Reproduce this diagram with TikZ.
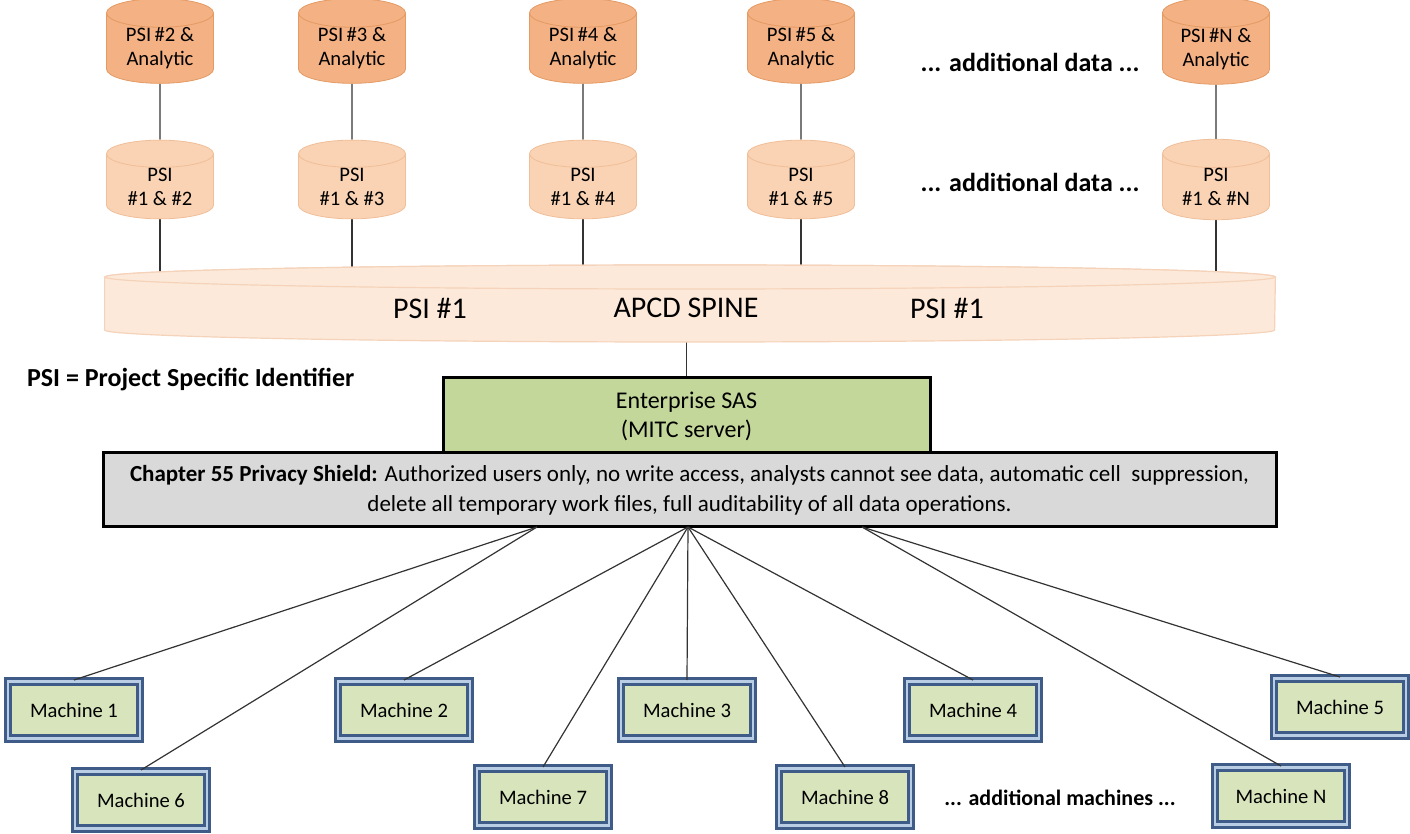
\documentclass[tikz,border=0pt]{standalone}
\usepackage{fontspec}
\setmainfont{Carlito}
\usetikzlibrary{shapes.geometric,positioning}
\definecolor{anafill}{HTML}{F4B183}
\definecolor{anaedge}{HTML}{E39A64}
\definecolor{psifill}{HTML}{F9D3B4}
\definecolor{psiedge}{HTML}{F0BE98}
\definecolor{spinefill}{HTML}{FDE9D9}
\definecolor{spineedge}{HTML}{F5D3BA}
\definecolor{sasfill}{HTML}{C4D79B}
\definecolor{shieldfill}{HTML}{D9D9D9}
\definecolor{machfill}{HTML}{D8E4BC}
\definecolor{machedge}{HTML}{3E5C87}
\definecolor{machlight}{HTML}{B9CDE5}
\pgfdeclarelayer{back}
\pgfsetlayers{back,main}
\tikzset{
  txt/.style={font=\fontsize{10.3}{12}\selectfont},
  anacyl/.style={txt, cylinder, shape border rotate=90, aspect=0.42,
    draw=anaedge, fill=anafill, minimum width=53.5pt, minimum height=30pt,
    inner sep=0pt, align=center, anchor=shape center},
  psicyl/.style={anacyl, draw=psiedge, fill=psifill},
  spinetxt/.style={font=\fontsize{15}{17}\selectfont},
  spineface/.style={fill=spinefill, draw=spineedge, line width=0.6pt},
  bigbox/.style={rectangle, draw=black, line width=1.5pt, align=center},
  machine/.style={txt, rectangle, draw=machedge, line width=1.5pt,
    double=machlight, double distance=1.4pt, fill=machfill,
    minimum width=66pt, minimum height=28.5pt},
  note/.style={font=\fontsize{13}{15}\selectfont\bfseries},
  wire/.style={draw=black!80, line width=0.6pt},
}
\begin{document}
\begin{tikzpicture}[x=0.5pt,y=-0.5pt]
\useasboundingbox (0,0) rectangle (1410,834);
% data stores
\foreach \x/\n in {160/2,352/3,583/4,801/5,1216/N}{%
  \node[anacyl] (A\n) at (\x,41) {PSI\,\#\n\ \&\\Analytic};
  \node[psicyl] (P\n) at (\x,179.5) {PSI\\\#1 \& \#\n};
}
\node[note] (adata1) at (1030,62) {... additional data ...};
\node[note] (adata2) at (1030,182) {... additional data ...};
% spine
\node[minimum width=585pt, minimum height=38.5pt, inner sep=0pt] (Spine) at (690,303.5) {};
\path[spineface] (Spine.west |- 0,277) -- (Spine.west |- 0,330)
  arc[start angle=180, end angle=360, x radius=292.5pt, y radius=6pt]
  -- (Spine.east |- 0,277)
  arc[start angle=0, end angle=180, x radius=292.5pt, y radius=6pt] -- cycle;
\path[spineface] (Spine |- 0,277) ellipse[x radius=292.5pt, y radius=6pt];
\node[spinetxt] (spL) at (430,308) {PSI \#1};
\node[spinetxt] (spC) at (686,308) {APCD SPINE};
\node[spinetxt] (spR) at (947,308) {PSI \#1};
\node[note, anchor=west] (legend) at (20,380) {PSI = Project Specific Identifier};
% server and shield
\node[bigbox, fill=sasfill, font=\fontsize{12}{14.5}\selectfont,
  minimum width=243.5pt, minimum height=38.5pt] (SAS)
  at (686.5,416) {Enterprise SAS\\(MITC server)};
\node[bigbox, fill=shieldfill, font=\fontsize{11.5}{15}\selectfont,
  minimum width=586.5pt, minimum height=37pt] (Shield)
  at (689.5,490) {\textbf{Chapter 55 Privacy Shield:} Authorized users only, no write access, analysts cannot see data, automatic cell\ \ suppression,\\
  delete all temporary work files, full auditability of all data operations.};
\coordinate (hubL) at (537,527);
\coordinate (hubC) at (688,527);
\coordinate (hubR) at (862,527);
\begin{pgfonlayer}{back}
\foreach \n in {2,3,4,5,N}{%
  \draw[wire] (A\n.south) -- (P\n.north);
  \draw[wire] (P\n.south) -- (P\n.south |- Spine.center);
}
\draw[wire] (SAS.north |- Spine.south) -- (SAS.north);
\end{pgfonlayer}
% machines
\foreach \n/\x/\y/\h in {1/74/710/hubL, 6/141/800/hubL, 2/404/710/hubC,
  7/543/797/hubC, 3/687/710/hubC, 8/845/797/hubC, 4/973/710/hubC,
  N/1281/796/hubR, 5/1340/707/hubR}{%
  \node[machine] (M\n) at (\x,\y) {Machine \n};
  \draw[wire] (\h) -- (M\n.north);
}
\node[note, font=\fontsize{11}{13}\selectfont\bfseries] (amach) at (1060,798) {... additional machines ...};
\end{tikzpicture}
\end{document}
